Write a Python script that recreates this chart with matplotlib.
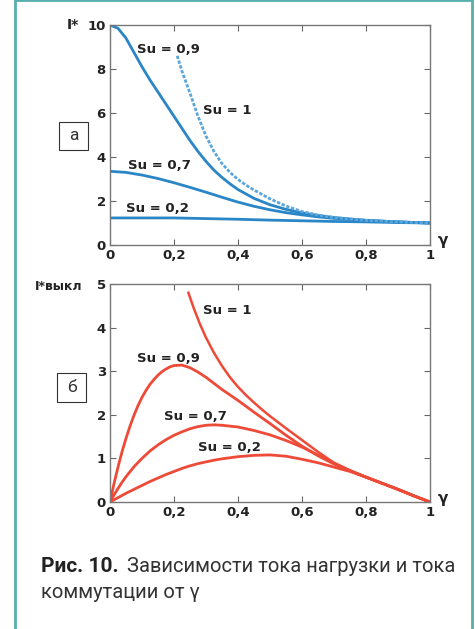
import numpy as np
import matplotlib
matplotlib.use("Agg")
import matplotlib.pyplot as plt
from matplotlib.patches import Rectangle

# ---- data ----
# top chart: I* against gamma
g_09 = [0, 0.025, 0.05, 0.075, 0.1, 0.125, 0.15, 0.175, 0.2, 0.225, 0.25, 0.275, 0.3,
        0.325, 0.35, 0.375, 0.4, 0.45, 0.5, 0.55, 0.6, 0.65, 0.7, 0.75, 0.8, 0.85, 0.9, 0.95, 1.0]
i_su09 = [10, 9.85, 9.4, 8.75, 8.1, 7.5, 6.95, 6.4, 5.85, 5.3, 4.75, 4.25, 3.8,
          3.4, 3.07, 2.78, 2.52, 2.12, 1.83, 1.62, 1.46, 1.34, 1.25, 1.18, 1.12, 1.08, 1.05, 1.02, 1.0]
g_07 = [0, 0.05, 0.1, 0.15, 0.2, 0.25, 0.3, 0.35, 0.4, 0.45, 0.5, 0.55, 0.6, 0.65, 0.7, 0.8, 0.9, 1.0]
i_su07 = [3.35, 3.3, 3.18, 3.02, 2.83, 2.62, 2.4, 2.17, 1.95, 1.76, 1.6, 1.47, 1.37, 1.28, 1.21, 1.12, 1.05, 1.0]
g_02 = [0, 0.1, 0.2, 0.3, 0.4, 0.5, 0.6, 0.7, 0.8, 0.9, 1.0]
i_su02 = [1.23, 1.23, 1.23, 1.2, 1.17, 1.13, 1.1, 1.07, 1.05, 1.02, 1.0]
g_1 = [0.21, 0.225, 0.25, 0.275, 0.3, 0.325, 0.35, 0.375, 0.4, 0.425, 0.45, 0.5, 0.55,
       0.6, 0.65, 0.7, 0.8, 0.9, 1.0]
i_su1 = [8.6, 7.9, 6.9, 5.85, 4.95, 4.25, 3.7, 3.3, 2.98, 2.72, 2.5, 2.1, 1.77,
         1.52, 1.36, 1.25, 1.12, 1.05, 1.0]

# bottom chart: I*выкл against gamma
gb_09 = [0, 0.0125, 0.025, 0.0375, 0.05, 0.0625, 0.075, 0.0875, 0.1, 0.1125, 0.125, 0.1375,
         0.15, 0.1625, 0.175, 0.1875, 0.2, 0.225, 0.25, 0.275, 0.3, 0.325, 0.35, 0.4, 0.45,
         0.5, 0.55, 0.6, 0.65, 0.7, 0.75, 0.8, 0.85, 0.9, 0.95, 1.0]
k_su09 = [0, 0.42, 0.8, 1.15, 1.46, 1.74, 1.99, 2.21, 2.4, 2.56, 2.7, 2.81,
          2.91, 2.99, 3.05, 3.1, 3.13, 3.14, 3.08, 2.98, 2.86, 2.72, 2.58, 2.33, 2.06,
          1.8, 1.53, 1.28, 1.06, 0.87, 0.72, 0.57, 0.43, 0.29, 0.14, 0]
gb = [0, 0.0125, 0.025, 0.0375, 0.05, 0.075, 0.1, 0.125, 0.15, 0.175, 0.2, 0.225, 0.25,
      0.275, 0.3, 0.325, 0.35, 0.4, 0.45, 0.5, 0.55, 0.6, 0.65, 0.7, 0.75, 0.8, 0.85, 0.9, 0.95, 1.0]
k_su07 = [0, 0.16, 0.31, 0.45, 0.58, 0.81, 1.0, 1.17, 1.31, 1.43, 1.53, 1.61, 1.68,
          1.73, 1.76, 1.77, 1.76, 1.72, 1.64, 1.54, 1.41, 1.26, 1.08, 0.89, 0.72, 0.57, 0.43, 0.29, 0.14, 0]
k_su02 = [0, 0.05, 0.1, 0.15, 0.2, 0.29, 0.38, 0.47, 0.55, 0.63, 0.7, 0.77, 0.83,
          0.88, 0.92, 0.96, 0.99, 1.04, 1.07, 1.08, 1.05, 0.98, 0.9, 0.8, 0.7, 0.57, 0.43, 0.29, 0.14, 0]
gb_1 = [0.245, 0.26, 0.28, 0.3, 0.325, 0.35, 0.375, 0.4, 0.425, 0.45, 0.475, 0.5, 0.55, 0.6, 0.65,
        0.7, 0.75, 0.8, 0.85, 0.9, 0.95, 1.0]
k_su1 = [4.8, 4.48, 4.1, 3.77, 3.42, 3.12, 2.86, 2.64, 2.45, 2.28, 2.12, 1.97, 1.69, 1.42, 1.15,
         0.9, 0.72, 0.57, 0.43, 0.29, 0.14, 0]

xticks = [0, 0.2, 0.4, 0.6, 0.8, 1]
xtick_labels = ["0", "0,2", "0,4", "0,6", "0,8", "1"]

W, H = 475, 629
BLUE = "#2a86c6"
BLUE_L = "#5aa6dc"
RED = "#ee4a38"
TEAL = "#58aeac"
INK = "#222222"

def fx(x): return x / W
def fy(y): return 1 - y / H

fig = plt.figure(figsize=(W / 100, H / 100), dpi=100)
fig.set_facecolor("white")

# teal frame
fig.add_artist(Rectangle((fx(15), fy(640)), fx(457), 640 / H, transform=fig.transFigure,
                         facecolor="none", edgecolor=TEAL, linewidth=2))

lab_font = dict(family="DejaVu Sans", fontweight="bold", fontsize=9.5, color=INK, va="center")

def style_axes(ax, ymax, yticks):
    ax.set_xlim(0, 1)
    ax.set_ylim(0, ymax)
    ax.set_xticks(xticks)
    ax.set_xticklabels(xtick_labels)
    ax.set_yticks(yticks)
    ax.set_yticklabels([str(t) for t in yticks])
    for s in ax.spines.values():
        s.set_linestyle((0, (1.5, 1)))
        s.set_color("#777777")
        s.set_linewidth(1.0)
    ax.tick_params(direction="in", length=4, width=0.8, color="#666666",
                   top=True, right=True, pad=3, labelsize=9.5)
    for lab in ax.get_xticklabels() + ax.get_yticklabels():
        lab.set_fontweight("bold")
        lab.set_family("DejaVu Sans")
        lab.set_color(INK)

# ---- top chart ----
ax1 = fig.add_axes([fx(110), fy(245), 320 / W, 220 / H])
style_axes(ax1, 10, [0, 2, 4, 6, 8, 10])
ax1.plot(g_09, i_su09, color=BLUE, lw=2)
ax1.plot(g_07, i_su07, color=BLUE, lw=2)
ax1.plot(g_02, i_su02, color=BLUE, lw=2)
ax1.plot(g_1, i_su1, color=BLUE_L, lw=2, ls=(0, (1.2, 0.6)))
ax1.text(0.085, 8.9, "Su = 0,9", **lab_font)
ax1.text(0.29, 6.1, "Su = 1", **lab_font)
ax1.text(0.055, 3.6, "Su = 0,7", **lab_font)
ax1.text(0.05, 1.65, "Su = 0,2", **lab_font)

fig.text(fx(67), fy(25), "I*", fontsize=10, fontweight="bold", family="DejaVu Sans",
         color=INK, va="center")
fig.text(fx(438), fy(240), "γ", fontsize=11, fontweight="bold", color=INK, va="center")

# ---- bottom chart ----
ax2 = fig.add_axes([fx(110), fy(502), 320 / W, 218 / H])
style_axes(ax2, 5, [0, 1, 2, 3, 4, 5])
ax2.plot(gb_09, k_su09, color=RED, lw=2)
ax2.plot(gb, k_su07, color=RED, lw=2)
ax2.plot(gb, k_su02, color=RED, lw=2)
ax2.plot(gb_1, k_su1, color=RED, lw=1.8)
ax2.text(0.29, 4.4, "Su = 1", **lab_font)
ax2.text(0.085, 3.3, "Su = 0,9", **lab_font)
ax2.text(0.17, 1.95, "Su = 0,7", **lab_font)
ax2.text(0.275, 1.26, "Su = 0,2", **lab_font)

fig.text(fx(35), fy(287), "I*выкл", fontsize=9, fontweight="bold", family="DejaVu Sans",
         color=INK, va="center")
fig.text(fx(438), fy(498), "γ", fontsize=11, fontweight="bold", color=INK, va="center")

# panel tags
for (x0, y0, x1, y1, t) in [(59, 122, 88, 150, "а"), (57, 373, 86, 402, "б")]:
    fig.add_artist(Rectangle((fx(x0), fy(y1)), (x1 - x0) / W, (y1 - y0) / H,
                             transform=fig.transFigure, facecolor="white",
                             edgecolor="#333333", linewidth=0.8))
    fig.text(fx((x0 + x1) / 2), fy((y0 + y1) / 2), t, fontsize=12.5, family="Roboto",
             color="#333333", ha="center", va="center")

# caption
fig.text(fx(41), fy(566), "Рис. 10.", fontsize=15, fontweight="bold", family="Roboto",
         color=INK, va="center")
fig.text(fx(127), fy(566), "Зависимости тока нагрузки и тока", fontsize=14.5,
         family="Roboto", color="#333333", va="center")
fig.text(fx(41), fy(593), "коммутации от γ", fontsize=14.5, family="Roboto",
         color="#333333", va="center")

fig.savefig("out.png", dpi=100)
